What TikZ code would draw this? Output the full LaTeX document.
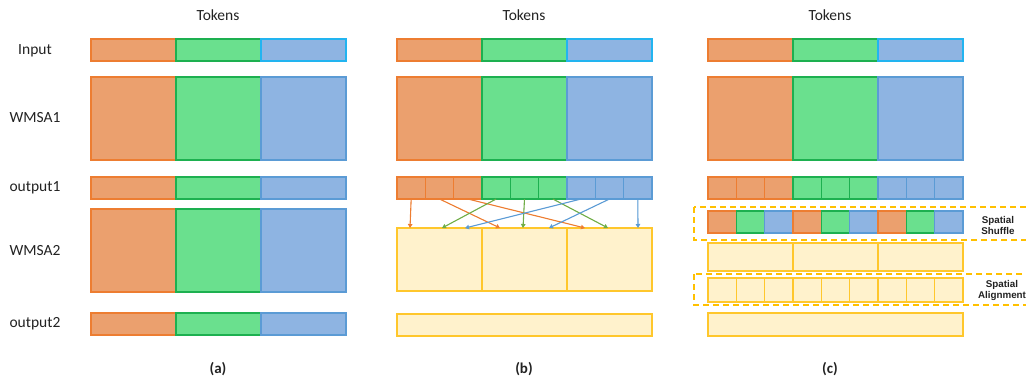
\documentclass[tikz,border=0pt]{standalone}
\usepackage{fontspec}
\setmainfont{Carlito}
\newfontfamily\arialfont{Liberation Sans}
\usetikzlibrary{arrows.meta,calc}
\definecolor{orgF}{HTML}{EBA06E}
\definecolor{orgD}{HTML}{ED7D31}
\definecolor{grnF}{HTML}{6AE08E}
\definecolor{grnD}{HTML}{1DB050}
\definecolor{bluF}{HTML}{8EB4E2}
\definecolor{bluD}{HTML}{5B9BD5}
\definecolor{cyanD}{HTML}{22B4F0}
\definecolor{ylwF}{HTML}{FFF2CC}
\definecolor{ylwD}{HTML}{FFC72C}
\definecolor{dashY}{HTML}{FFC000}
\definecolor{arrG}{HTML}{70AD47}
\definecolor{txt}{HTML}{222222}
\begin{document}
\begin{tikzpicture}[x=1pt,y=-1pt,
  cell/.style={line width=1.1pt,inner sep=0pt,outer sep=0pt,anchor=north west},
  org/.style={cell,fill=orgF,draw=orgD},
  grn/.style={cell,fill=grnF,draw=grnD},
  blu/.style={cell,fill=bluF,draw=bluD},
  bluin/.style={cell,fill=bluF,draw=cyanD},
  ylw/.style={cell,fill=ylwF,draw=ylwD},
  lbl/.style={font=\fontsize{15.5}{17}\selectfont,text=txt,inner sep=0pt},
  captxt/.style={font=\fontsize{15}{17}\selectfont\bfseries,text=txt,inner sep=0pt},
  side/.style={font=\arialfont\fontsize{9.8}{11}\selectfont\bfseries,text=txt,align=center,inner sep=0pt},
  dbox/.style={draw=dashY,line width=1.8pt,dash pattern=on 6pt off 4pt},
  arr/.style={line width=1.1pt,-{Triangle[length=4pt,width=4.5pt]}}
]
\useasboundingbox (0,0) rectangle (1026,383);
% row labels
\node[lbl] (lIn) at (35,51) {Input};
\node[lbl] (lW1) at (35,118) {WMSA1};
\node[lbl] (lO1) at (35,188) {output1};
\node[lbl] (lW2) at (35,251) {WMSA2};
\node[lbl] (lO2) at (35,324) {output2};
% titles and captions
\foreach \p/\c in {a/218,b/524,c/830}{
  \node[lbl] (tok\p) at (\c,15) {Tokens};
  \node[captxt] (cap\p) at (\c,369) {(\p)};
}
% Input and WMSA1 rows for all panels
\foreach \p/\x in {a/91,b/397,c/708}{
  \foreach \i/\s/\t in {1/org/org,2/grn/grn,3/blu/bluin}{
    \node[\t,minimum width=85pt,minimum height=22pt] (\p-in-\i) at ({\x+(\i-1)*85},39) {};
    \node[\s,minimum width=85pt,minimum height=83pt] (\p-w1-\i) at ({\x+(\i-1)*85},77) {};
  }
}
% panel (a)
\foreach \i/\s in {1/org,2/grn,3/blu}{
  \node[\s,minimum width=85pt,minimum height=22pt] (a-o1-\i) at ({91+(\i-1)*85},177) {};
  \node[\s,minimum width=85pt,minimum height=83pt] (a-w2-\i) at ({91+(\i-1)*85},209) {};
  \node[\s,minimum width=85pt,minimum height=22pt] (a-o2-\i) at ({91+(\i-1)*85},313) {};
}
% panel (b)
\foreach \j/\s in {1/org,2/org,3/org,4/grn,5/grn,6/grn,7/blu,8/blu,9/blu}{
  \node[\s,minimum width=28.33pt,minimum height=22pt] (b-o1-\j) at ({397+(\j-1)*85/3},177) {};
}
\foreach \i in {1,2,3}{
  \node[ylw,minimum width=85pt,minimum height=63pt] (b-w2-\i) at ({397+(\i-1)*85},228) {};
}
\node[ylw,minimum width=255pt,minimum height=22pt] (b-o2) at (397,314) {};
% arrow targets on top of the yellow windows
\foreach \k/\tx in {1/410,2/442,3/465,4/500,5/523,6/549,7/585,8/608,9/638}{
  \coordinate (t\k) at (\tx,228);
}
\foreach \j/\k/\c in {1/1/orgD,2/4/orgD,3/7/orgD,4/2/arrG,5/5/arrG,6/8/arrG,7/3/bluD,8/6/bluD,9/9/bluD}{
  \draw[arr,draw=\c,fill=\c] (b-o1-\j.south) -- (t\k);
}
% panel (c)
\foreach \j/\s in {1/org,2/org,3/org,4/grn,5/grn,6/grn,7/blu,8/blu,9/blu}{
  \node[\s,minimum width=28.33pt,minimum height=22pt] (c-o1-\j) at ({708+(\j-1)*85/3},177) {};
}
\foreach \j/\s in {1/org,2/grn,3/blu,4/org,5/grn,6/blu,7/org,8/grn,9/blu}{
  \node[\s,minimum width=28.33pt,minimum height=22pt] (c-sh-\j) at ({708+(\j-1)*85/3},211) {};
}
\foreach \i in {1,2,3}{
  \node[ylw,minimum width=85pt,minimum height=28pt] (c-w2-\i) at ({708+(\i-1)*85},243) {};
}
\foreach \j in {1,...,9}{
  \node[ylw,minimum width=28.33pt,minimum height=24pt] (c-al-\j) at ({708+(\j-1)*85/3},278) {};
}
\node[ylw,minimum width=255pt,minimum height=23pt] (c-o2) at (708,313) {};
% dashed groups
\draw[dbox] (694,207) rectangle (1032,240);
\draw[dbox] (694,274) rectangle (1032,305);
\node[side] (shuf) at (998,225.5) {Spatial\\Shuffle};
\node[side] (algn) at (1002,290.5) {Spatial\\Alignment};
\end{tikzpicture}
\end{document}
